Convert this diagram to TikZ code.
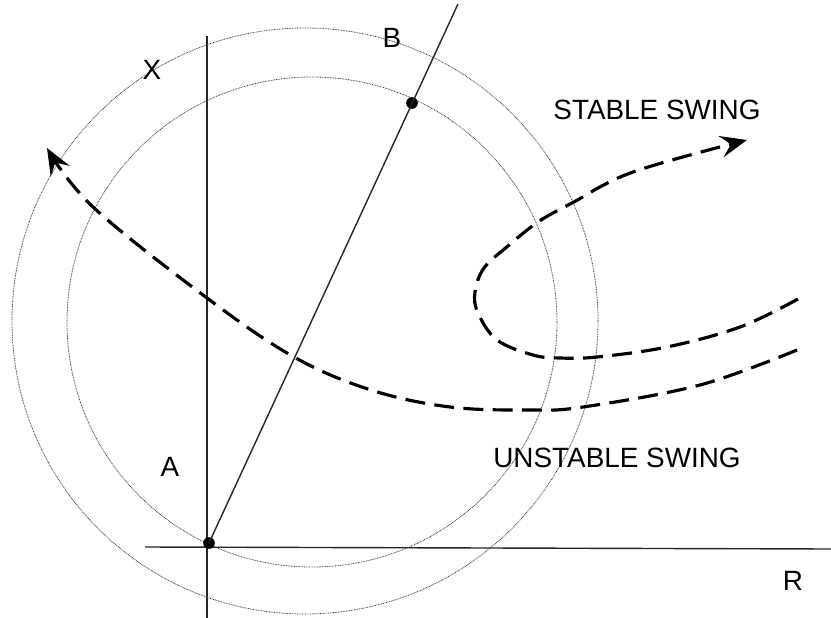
\documentclass[tikz,border=0pt]{standalone}
\usepackage{fontspec}
\setmainfont{Liberation Sans}
\usetikzlibrary{arrows.meta}

\begin{document}
\begin{tikzpicture}[x=0.03cm, y=-0.03cm,
        axis/.style={line width=1.2pt, black!85},
        locus/.style={line width=0.7pt, dash pattern=on 0.7pt off 0.7pt, black!75},
        swing/.style={line width=2.7pt, dash pattern=on 17pt off 8pt, -{Stealth[length=8mm, width=6.5mm, inset=3mm]}},
        tag/.style={font=\fontsize{23.8}{28}\selectfont, inner sep=0pt},
        dot/.style={circle, fill=black, inner sep=0pt, minimum size=3.5mm}
    ]
        \useasboundingbox (0,0) rectangle (831,618);

        % impedance plane
        \coordinate (Rleft) at (145,547);
        \coordinate (Rright) at (831,549);
        \coordinate (Xbot) at (207,618);
        \coordinate (Xtop) at (207,36);
        \draw[axis] (Rleft) -- (Rright);
        \draw[axis] (Xbot) -- (Xtop);

        % relay characteristics
        \coordinate (inner) at (312,322);
        \coordinate (outer) at (305,321);
        \draw[locus] (inner) circle[radius=245];
        \draw[locus] (outer) circle[radius=293];

        % line impedance
        \node[dot] (O) at (209,543) {};
        \node[dot] (Bdot) at (412,103) {};
        \coordinate (Btop) at (458,4);
        \draw[axis] (O.center) -- (Btop);

        % swing loci
        \draw[swing] plot[smooth, tension=0.6] coordinates {(797,350) (700,385) (583,407) (530,410) (450,407) (371,390) (294,357) (207,298) (93,207) (47,148)};
        \draw[swing] plot[smooth, tension=0.6] coordinates {(798,299) (740,327) (667,347) (597,357) (560,358) (533,355) (497,340) (478,313) (475,292) (484,268) (508,246) (538,222) (572,203) (633,172) (747,140)};

        \node[tag] (X) at (152,70) {X};
        \node[tag] (B) at (392,38) {B};
        \node[tag] (A) at (170,467) {A};
        \node[tag] (R) at (793,581) {R};
        \node[tag] (stable) at (657,110) {STABLE SWING};
        \node[tag] (unstable) at (617,458) {UNSTABLE SWING};
    \end{tikzpicture}
\end{document}
